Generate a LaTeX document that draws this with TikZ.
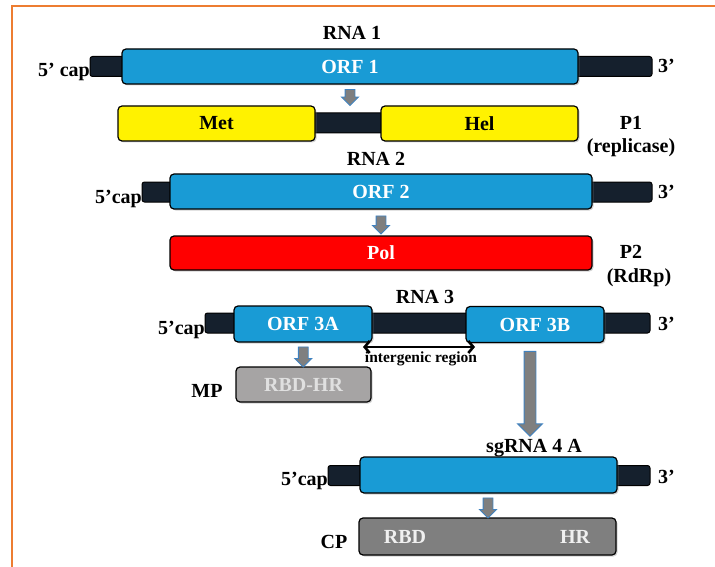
\documentclass[tikz,border=0pt]{standalone}
\usepackage{fontspec}
\setmainfont{Liberation Serif}
\usetikzlibrary{shapes.arrows,shadows,arrows.meta,calc}

\definecolor{orfblue}{HTML}{199BD5}
\definecolor{utrdark}{HTML}{15202D}
\definecolor{flowgray}{HTML}{7F7F7F}
\definecolor{flowedge}{HTML}{3F82C0}
\definecolor{mpgray}{HTML}{A6A4A4}
\definecolor{cpgray}{HTML}{7F7F7F}
\definecolor{framecol}{HTML}{ED7D31}

\begin{document}
\begin{tikzpicture}[x=1pt,y=-1pt,font=\fontsize{20}{24}\selectfont\bfseries]

			\tikzstyle{mybar}=[rectangle,
			rounded corners=4pt,
			draw=black,
			line width=1.2pt,
			inner sep=0pt,
			drop shadow={shadow xshift=1.5pt,shadow yshift=-1.5pt,opacity=0.35}
			]
			\tikzstyle{myorf}=[mybar, fill=orfblue, text=white]
			\tikzstyle{mytail}=[rectangle, rounded corners=2.5pt, draw=black, line width=1pt,
			fill=utrdark, inner sep=0pt, minimum height=20pt]
			\tikzstyle{mylabel}=[inner sep=0pt, anchor=base]
			\tikzstyle{myflow}=[single arrow, draw=flowedge, fill=flowgray, line width=0.9pt,
			inner xsep=0pt, inner ysep=4.5pt, minimum width=0pt, single arrow head extend=3.5pt, rotate=-90]
			\tikzstyle{myarrow}=[{Straight Barb[length=5pt,width=12pt]}-{Straight Barb[length=5pt,width=12pt]}, line width=2.6pt]

			\useasboundingbox (0,0) rectangle (715,567);

			% frame
			\coordinate (fbl) at (12,567);
			\coordinate (ftl) at (12,6);
			\coordinate (ftr) at (715,6);
			\draw[framecol, line width=2pt] (fbl) -- (ftl) -- (ftr);

			% RNA 1 and P1
			\coordinate (pu1) at (371,66.5);
			\coordinate (po1) at (350,66.5);
			\node[mytail, minimum width=562pt] (utr1) at (pu1) {};
			\node[myorf, minimum width=456pt, minimum height=35pt] (orf1) at (po1) {ORF 1};
			\node[mylabel] (rna1) at (352,40) {RNA 1};
			\node[mylabel, anchor=base east] (cap1) at (90,77) {5’ cap};
			\node[mylabel, anchor=base west] (end1) at (658,73) {3’};

			\node[mytail, minimum width=80pt] (link1) at (348,123) {};
			\node[mybar, fill=yellow, minimum width=197pt, minimum height=35pt] (met) at (216.5,123.5) {Met};
			\node[mybar, fill=yellow, minimum width=197pt, minimum height=35pt] (hel) at (479.5,123.5) {Hel};
			\node[mylabel] (p1) at (631,130) {P1};
			\node[mylabel] (p1b) at (631,153) {(replicase)};
			\path (orf1.south) -- node[myflow, minimum height=16pt] (f1) {} (orf1.south |- met.north);

			% RNA 2 and P2
			\node[mytail, minimum width=510pt] (utr2) at (397,192) {};
			\node[myorf, minimum width=422pt, minimum height=35pt] (orf2) at (381,191.5) {ORF 2};
			\node[mylabel] (rna2) at (376,166) {RNA 2};
			\node[mylabel, anchor=base east] (cap2) at (142,203) {5’cap};
			\node[mylabel, anchor=base west] (end2) at (658,198) {3’};

			\node[mybar, fill=red, text=white, minimum width=422pt, minimum height=34pt] (pol) at (381,253) {Pol};
			\node[mylabel] (p2) at (631,258) {P2};
			\node[mylabel] (p2b) at (639,282) {(RdRp)};
			\path (orf2.south) -- node[myflow, minimum height=18pt] (f2) {} (pol.north);

			% RNA 3, MP and sgRNA
			\node[mytail, minimum width=445pt] (utr3) at (427.5,323) {};
			\node[myorf, minimum width=138pt, minimum height=36pt] (orf3a) at (303,324) {ORF 3A};
			\node[myorf, minimum width=138pt, minimum height=36pt] (orf3b) at (535,324.5) {ORF 3B};
			\node[mylabel] (rna3) at (425,303) {RNA 3};
			\node[mylabel, anchor=base east] (cap3) at (205,334) {5’cap};
			\node[mylabel, anchor=base west] (end3) at (658,330) {3’};

			\coordinate (igl) at (363,347);
			\coordinate (igr) at (475,347);
			\draw[myarrow] (igl) -- (igr);
			\node[mylabel, font=\fontsize{15.5}{18}\selectfont\bfseries] (ig) at (421,362) {intergenic region};

			\node[mybar, fill=mpgray, text=black!12, minimum width=135pt, minimum height=35pt] (rbdhr) at (303.5,384.5) {RBD-HR};
			\node[mylabel] (mp) at (207,397) {MP};
			\path (orf3a.south) -- node[myflow, minimum height=20pt] (f3) {} (rbdhr.north);

			\node[mytail, minimum width=322pt] (utr4) at (489,475.5) {};
			\node[myorf, minimum width=257pt, minimum height=36pt] (orf4) at (488.5,475) {};
			\node[mylabel] (sg) at (534,452) {sgRNA 4 A};
			\node[mylabel, anchor=base east] (cap4) at (328,485) {5’cap};
			\node[mylabel, anchor=base west] (end4) at (658,483) {3’};
			\path ($(orf3b.south)+(-5,0)$) -- node[myflow, minimum height=85pt, inner ysep=5.5pt, single arrow head extend=6.5pt] (f4) {} ($(orf3b.south |- sg.north)+(-5,0)$);

			\node[mybar, fill=cpgray, minimum width=257pt, minimum height=37pt] (cp) at (487.5,536.5) {};
			\node[mylabel, text=black!6] (rbd) at (405,543) {RBD};
			\node[mylabel, text=black!6] (hr) at (575,543) {HR};
			\node[mylabel] (cpl) at (334,548) {CP};
			\path (orf4.south) -- node[myflow, minimum height=20pt] (f5) {} (cp.north);

\end{tikzpicture}
\end{document}
